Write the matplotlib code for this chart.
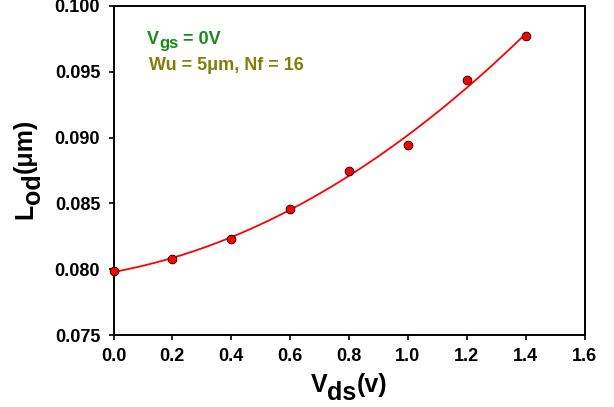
import numpy as np
import matplotlib
matplotlib.use('Agg')
import matplotlib.pyplot as plt
from matplotlib.transforms import IdentityTransform

plt.rcParams['font.family'] = ['Liberation Sans', 'DejaVu Sans']
plt.rcParams['font.weight'] = 'bold'

# measured data
vds = [0.0, 0.2, 0.4, 0.6, 0.8, 1.0, 1.2, 1.4]
lod = [0.07985, 0.0808, 0.0823, 0.0846, 0.0875, 0.0894, 0.0944, 0.0977]
xticks = [0.0, 0.2, 0.4, 0.6, 0.8, 1.0, 1.2, 1.4, 1.6]
yticks = [0.075, 0.080, 0.085, 0.090, 0.095, 0.100]

# quadratic fit of the measured points
coef = np.polyfit(vds, lod, 2)
xfit = np.linspace(vds[0], vds[-1], 200)
yfit = np.polyval(coef, xfit)

W, H = 614, 407
fig = plt.figure(figsize=(W / 100, H / 100), dpi=100)
# axes box in pixels: left 113.5, right 584.5, top 6, bottom 335
ax = fig.add_axes([113.5 / W, 1 - 335 / H, 471 / W, 329 / H])

ax.plot(xfit, yfit, color='red', linewidth=1.3, zorder=2)
ax.plot(vds, lod, 'o', markersize=6.3, markerfacecolor='red',
        markeredgecolor='black', markeredgewidth=0.6, zorder=3, clip_on=False)

ax.set_xlim(0, 1.6)
ax.set_ylim(0.075, 0.100)
ax.set_xticks(xticks)
ax.set_yticks(yticks)
ax.set_xticklabels([f'{t:.1f}' for t in xticks])
ax.set_yticklabels([f'{t:.3f}' for t in yticks])
ax.tick_params(direction='out', length=3.6, width=1.2, labelsize=13,
               top=False, right=False)
ax.tick_params(axis='x', pad=6)
ax.tick_params(axis='y', pad=6)
for sp in ax.spines.values():
    sp.set_linewidth(1.4)


def chain_text(x0, y0, pieces, rotation=0, center=True, **kw):
    """Draw text pieces (text, size, drop_px) one after another, in pixels."""
    renderer = fig.canvas.get_renderer()
    widths = []
    for s, size, drop in pieces:
        t = fig.text(0, 0, s, fontsize=size, fontweight='bold', transform=IdentityTransform())
        widths.append(t.get_window_extent(renderer).width)
        t.remove()
    pos = -sum(widths) / 2 if center else 0
    for (s, size, drop), w in zip(pieces, widths):
        if rotation == 90:
            x, y = x0 + drop, y0 + pos
        else:
            x, y = x0 + pos, y0 - drop
        fig.text(x, y, s, fontsize=size, fontweight='bold', rotation=rotation,
                 rotation_mode='anchor', ha='left', va='baseline',
                 transform=IdentityTransform(), **kw)
        pos += w


# axis labels with large subscripts
chain_text(349, H - 392, [('V', 18, 0), ('ds', 18, 8), ('(v)', 18, 0)])
chain_text(32, H - 169, [('L', 18, 0), ('od', 18, 8), ('(\u03bcm)', 18, 0)], rotation=90)

# annotations
chain_text(147, H - 44, [('V', 13, 0), ('gs', 12, 4), (' = 0V', 13, 0)],
           center=False, color='#1a8a1a')
fig.text(149, H - 70, 'Wu = 5\u03bcm, Nf = 16', fontsize=13, fontweight='bold',
         color='#7f7f0a', ha='left', va='baseline', transform=IdentityTransform())

plt.savefig('out.png', dpi=100)
